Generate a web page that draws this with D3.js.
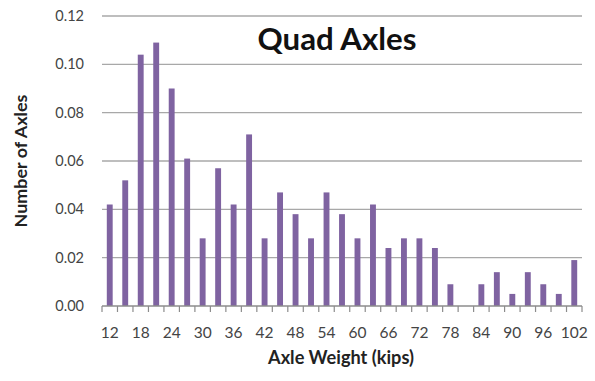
<!DOCTYPE html>
<html>
<head>
<meta charset="utf-8">
<script src="https://cdn.jsdelivr.net/npm/d3@7/dist/d3.min.js"></script>
<style>
  html, body { margin: 0; padding: 0; background: #fff; }
  svg { display: block; }
  text { font-family: Lato, "Open Sans", sans-serif; }
</style>
</head>
<body>
<svg id="chart" width="595" height="381"></svg>
<script>
// Axle weight bins (kips) and share of quad axles in each bin
const weights = [12, 15, 18, 21, 24, 27, 30, 33, 36, 39, 42, 45, 48, 51, 54, 57,
                 60, 63, 66, 69, 72, 75, 78, 81, 84, 87, 90, 93, 96, 99, 102];
const shares  = [0.042, 0.052, 0.104, 0.109, 0.090, 0.061, 0.028, 0.057, 0.042, 0.071, 0.028,
                 0.047, 0.038, 0.028, 0.047, 0.038, 0.028, 0.042, 0.024, 0.028, 0.028, 0.024,
                 0.009, 0.000, 0.009, 0.014, 0.005, 0.014, 0.009, 0.005, 0.019];
const xTickLabels = [12, 18, 24, 30, 36, 42, 48, 54, 60, 66, 72, 78, 84, 90, 96, 102];
const yTicks = [0, 0.02, 0.04, 0.06, 0.08, 0.10, 0.12];

const svg = d3.select("#chart");
const plotL = 102, plotR = 582, plotT = 16, plotB = 306;

const inner = 0.62;
const x = d3.scaleBand()
  .domain(weights)
  .range([plotL, plotR])
  .paddingInner(inner)
  .paddingOuter(inner / 2);
const y = d3.scaleLinear().domain([0, 0.12]).range([plotB, plotT]);

// horizontal gridlines
svg.append("g")
  .selectAll("line")
  .data(yTicks.filter(d => d > 0))
  .join("line")
  .attr("x1", plotL).attr("x2", plotR)
  .attr("y1", d => y(d)).attr("y2", d => y(d))
  .attr("stroke", "#a8a8a8")
  .attr("stroke-width", 1.3);

// bars
svg.append("g")
  .selectAll("rect")
  .data(weights.map((w, i) => ({ w, v: shares[i] })))
  .join("rect")
  .attr("x", d => x(d.w))
  .attr("width", x.bandwidth())
  .attr("y", d => y(d.v))
  .attr("height", d => y(0) - y(d.v))
  .attr("fill", "#7f63a1");

// y axis labels
const yAxis = d3.axisLeft(y).tickValues(yTicks).tickFormat(d3.format(".2f")).tickSize(0).tickPadding(18);
const gy = svg.append("g").attr("transform", `translate(${plotL},0)`).call(yAxis);
gy.select(".domain").remove();
gy.selectAll("text")
  .attr("fill", "#444")
  .style("font-family", "Lato, sans-serif")
  .style("font-size", "14.5px");

// x axis: baseline, boundary ticks, labels on every other bin
const step = x.step();
const boundaries = weights.map(w => x(w) - (step - x.bandwidth()) / 2).concat([plotR]);
const gx = svg.append("g");
gx.append("line")
  .attr("x1", plotL).attr("x2", plotR)
  .attr("y1", plotB).attr("y2", plotB)
  .attr("stroke", "#8c8c8c").attr("stroke-width", 1.3);
gx.selectAll("line.tick")
  .data(boundaries)
  .join("line")
  .attr("class", "tick")
  .attr("x1", d => d).attr("x2", d => d)
  .attr("y1", plotB).attr("y2", plotB + 6)
  .attr("stroke", "#8c8c8c").attr("stroke-width", 1.2);
gx.selectAll("text")
  .data(xTickLabels)
  .join("text")
  .attr("x", d => x(d) + x.bandwidth() / 2)
  .attr("y", 338)
  .attr("text-anchor", "middle")
  .attr("fill", "#444")
  .style("font-size", "15.5px")
  .text(d => d);

// titles, sized to a target width
function fit(sel, width) {
  const w = sel.node().getComputedTextLength();
  const fs = parseFloat(sel.style("font-size"));
  sel.style("font-size", (fs * width / w) + "px");
}

const title = svg.append("text")
  .attr("x", 337).attr("y", 50)
  .attr("text-anchor", "middle")
  .attr("fill", "#111")
  .style("font-weight", "bold")
  .style("font-size", "28px")
  .text("Quad Axles");
fit(title, 159);

const xTitle = svg.append("text")
  .attr("x", 341).attr("y", 364)
  .attr("text-anchor", "middle")
  .attr("fill", "#222")
  .style("font-weight", "bold")
  .style("font-size", "15px")
  .text("Axle Weight (kips)");
fit(xTitle, 146);

const yTitle = svg.append("text")
  .attr("transform", "translate(27,161) rotate(-90)")
  .attr("text-anchor", "middle")
  .attr("fill", "#222")
  .style("font-weight", "bold")
  .style("font-size", "15px")
  .text("Number of Axles");
fit(yTitle, 133);
</script>
</body>
</html>
